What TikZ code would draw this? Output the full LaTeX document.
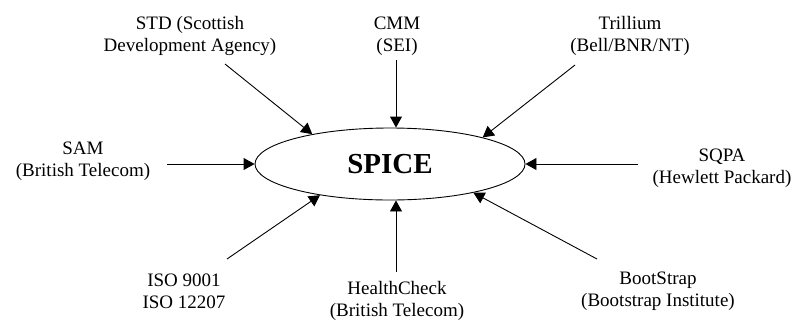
\documentclass[tikz,border=0pt]{standalone}
\usepackage{fontspec}
\setmainfont{Liberation Serif}
\usetikzlibrary{arrows.meta,shapes.geometric}
\begin{document}
\begin{tikzpicture}[x=1pt,y=-1pt,
  lbl/.style={align=center,inner sep=0pt,font=\fontsize{19}{22}\selectfont},
  feed/.style={line width=0.9pt,-{Triangle[length=11pt,width=12pt]}}]
\useasboundingbox (0,0) rectangle (794,322);
\node[ellipse,draw,line width=0.9pt,minimum width=270pt,minimum height=72pt,inner sep=0pt,
      font=\bfseries\fontsize{29}{30}\selectfont] (spice) at (390,164) {SPICE};
\node[lbl] (std) at (190,36) {STD (Scottish\\Development Agency)};
\node[lbl] (cmm) at (397,36) {CMM\\(SEI)};
\node[lbl] (tri) at (630,36) {Trillium\\(Bell/BNR/NT)};
\node[lbl] (sam) at (83,161) {SAM\\(British Telecom)};
\node[lbl] (sqpa) at (722,168) {SQPA\\(Hewlett Packard)};
\node[lbl] (iso) at (184,291) {ISO 9001\\ISO 12207};
\node[lbl] (hc) at (397,301) {HealthCheck\\(British Telecom)};
\node[lbl] (bs) at (658,291) {BootStrap\\(Bootstrap Institute)};
\coordinate (stdS) at (225,64);
\coordinate (cmmS) at (396,60);
\coordinate (triS) at (575,65);
\coordinate (samS) at (167,164);
\coordinate (sqpaS) at (638,164);
\coordinate (isoS) at (227,259);
\coordinate (hcS) at (396,272);
\coordinate (bsS) at (597,259);
\draw[feed] (stdS) -- (spice.159);
\draw[feed] (cmmS) -- (cmmS |- spice.north);
\draw[feed] (triS) -- (spice.16);
\draw[feed] (samS) -- (spice.west);
\draw[feed] (sqpaS) -- (spice.east);
\draw[feed] (isoS) -- (spice.204);
\draw[feed] (hcS) -- (hcS |- spice.south);
\draw[feed] (bsS) -- (spice.341);
\end{tikzpicture}
\end{document}
